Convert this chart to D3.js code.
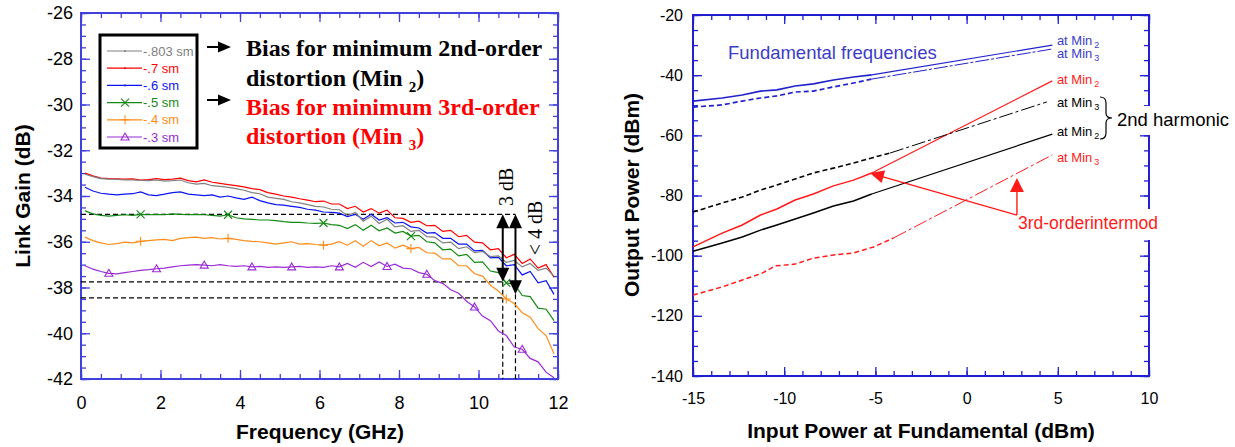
<!DOCTYPE html>
<html><head><meta charset="utf-8">
<script src="https://cdn.jsdelivr.net/npm/d3@7"></script>
<style>body{margin:0;background:#fff}svg{display:block;font-family:"Liberation Sans",Arial,sans-serif}</style>
</head><body>
<svg id="c" width="1235" height="447"></svg>
<script>
// ---------- LEFT CHART DATA ----------
const freqGHz = [0.1,0.3,0.5,0.7,0.9,1.1,1.3,1.5,1.7,1.9,2.1,2.3,2.5,2.7,2.9,3.1,3.3,3.5,3.7,3.9,
 4.1,4.3,4.5,4.7,4.9,5.1,5.3,5.5,5.7,5.9,6.1,6.3,6.5,6.7,6.9,7.1,7.3,7.5,7.7,7.9,
 8.1,8.3,8.5,8.7,8.9,9.1,9.3,9.5,9.7,9.9,10.1,10.3,10.5,10.7,10.9,11.1,11.3,11.5,11.7,11.9];
const gainM803 = [-33.05,-33.15,-33.24,-33.26,-33.27,-33.30,-33.30,-33.32,-33.33,-33.30,
 -33.35,-33.33,-33.30,-33.42,-33.48,-33.45,-33.55,-33.58,-33.62,-33.68,
 -33.75,-33.85,-33.90,-34.05,-34.10,-34.15,-34.25,-34.30,-34.38,-34.45,
 -34.48,-34.58,-34.60,-34.85,-34.72,-35.10,-34.88,-35.20,-35.02,-35.35,
 -35.30,-35.55,-35.50,-35.78,-35.80,-36.05,-36.02,-36.30,-36.22,-36.48,
 -36.42,-36.65,-36.62,-36.90,-36.82,-37.10,-36.95,-37.25,-37.15,-37.50];
const gainM7 = [-33.00,-33.12,-33.22,-33.24,-33.25,-33.26,-33.25,-33.30,-33.28,-33.24,
 -33.28,-33.26,-33.22,-33.33,-33.38,-33.30,-33.40,-33.45,-33.50,-33.55,
 -33.60,-33.68,-33.72,-33.85,-33.92,-34.00,-34.05,-34.12,-34.18,-34.25,
 -34.22,-34.35,-34.35,-34.55,-34.45,-34.70,-34.55,-34.75,-34.62,-34.95,
 -34.98,-35.15,-35.10,-35.30,-35.28,-35.55,-35.50,-35.78,-35.72,-36.02,
 -36.05,-36.35,-36.30,-36.70,-36.55,-36.95,-36.75,-37.15,-37.00,-37.55];
const gainM6 = [-33.62,-33.78,-33.88,-33.92,-33.95,-33.92,-33.90,-33.82,-33.95,-33.98,
 -33.92,-33.85,-33.82,-33.92,-33.95,-33.98,-33.95,-34.05,-34.00,-34.08,
 -34.15,-34.05,-34.20,-34.30,-34.38,-34.40,-34.45,-34.50,-34.58,-34.62,
 -34.70,-34.72,-34.75,-34.90,-34.80,-35.02,-34.80,-35.05,-34.95,-35.18,
 -35.15,-35.35,-35.40,-35.62,-35.60,-35.85,-35.85,-36.10,-36.10,-36.40,
 -36.38,-36.70,-36.68,-37.05,-37.00,-37.45,-37.30,-37.80,-37.70,-38.30];
const gainM5 = [-34.65,-34.78,-34.85,-34.88,-34.85,-34.82,-34.85,-34.80,-34.82,-34.80,
 -34.82,-34.78,-34.80,-34.82,-34.80,-34.82,-34.85,-34.88,-34.82,-34.95,
 -35.00,-35.02,-35.05,-35.05,-35.08,-35.12,-35.15,-35.15,-35.18,-35.20,
 -35.18,-35.25,-35.28,-35.42,-35.25,-35.50,-35.28,-35.52,-35.40,-35.62,
 -35.55,-35.75,-35.72,-36.00,-36.05,-36.35,-36.32,-36.62,-36.55,-36.90,
 -36.88,-37.28,-37.35,-37.80,-37.85,-38.35,-38.40,-38.90,-38.95,-39.45];
const gainM4 = [-35.80,-35.95,-36.05,-36.12,-36.08,-36.02,-36.05,-35.98,-35.95,-35.92,
 -35.90,-35.95,-35.85,-35.82,-35.80,-35.85,-35.82,-35.88,-35.85,-35.90,
 -35.95,-35.98,-36.00,-36.05,-36.10,-36.05,-36.00,-36.10,-36.08,-36.12,
 -36.15,-36.10,-36.00,-36.15,-35.95,-36.20,-35.95,-36.18,-36.05,-36.28,
 -36.15,-36.30,-36.25,-36.48,-36.50,-36.75,-36.75,-37.05,-37.05,-37.40,
 -37.50,-37.90,-38.15,-38.50,-38.70,-39.10,-39.30,-39.80,-40.10,-40.90];
const gainM3 = [-37.05,-37.20,-37.30,-37.38,-37.40,-37.35,-37.30,-37.25,-37.22,-37.18,
 -37.15,-37.10,-37.05,-37.02,-37.00,-37.02,-37.05,-37.00,-37.05,-37.08,
 -37.05,-37.10,-37.08,-37.12,-37.10,-37.12,-37.10,-37.08,-37.12,-37.10,
 -37.12,-37.05,-37.10,-36.95,-37.12,-36.90,-37.08,-36.88,-37.08,-36.98,
 -37.15,-37.18,-37.35,-37.42,-37.70,-37.82,-38.10,-38.25,-38.60,-38.85,
 -39.25,-39.45,-39.90,-40.10,-40.60,-40.70,-41.10,-41.25,-41.70,-41.95];
const legendLabels = ["-.803 sm","-.7 sm","-.6 sm","-.5 sm","-.4 sm","-.3 sm"];
const markIdxGreen = [7,18,30,41,53];
const markIdxOrange = [7,18,30,41,53];
const markIdxPurple = [3,9,15,21,26,32,38,43,49,55];
const xTicksL = [0,2,4,6,8,10,12];
const yTicksL = [-42,-40,-38,-36,-34,-32,-30,-28,-26];
const refLevels = [-34.8,-37.75,-38.45];
const cutFreqs = [10.61,10.93];

// ---------- RIGHT CHART DATA ----------
const pinMeas = [-15,-13.4,-12.3,-11.3,-10.4,-9.4,-8.4,-7.3,-6.2,-5.2,4.7];
const fundMin2 = [-48.6,-47.6,-46.6,-45.3,-44.9,-43.6,-42.9,-41.6,-40.6,-39.9,-30.0];
const fundMin3 = [-50.6,-49.9,-48.6,-47.6,-46.9,-45.6,-45.3,-43.9,-42.6,-41.3,-31.3];
const im3Min2  = [-97.1,-92.5,-89.8,-86.5,-84.5,-81.5,-79.5,-76.8,-74.9,-72.5,-41.9];
const h2Min2   = [-98.5,-95.8,-93.8,-91.5,-89.8,-87.8,-85.8,-83.5,-81.8,-79.5,-59.6];
const pinH2Min3 = [-15,-13.4,-12.3,-11.3,-10.4,-9.4,-8.4,-7.3,-6.2,-5.2,-4.2,4.4];
const h2Min3   = [-85.5,-82.5,-80.5,-78.2,-76.5,-74.5,-72.5,-70.9,-69.2,-67.5,-65.9,-48.9];
const pinIm3Min3 = [-15,-13.4,-12.3,-11.2,-10.5,-9.4,-8.4,-7.3,-6.2,-5.1,-4.0,4.7];
const im3Min3  = [-113.1,-110.4,-108.1,-105.8,-103.4,-102.8,-100.8,-99.8,-99.1,-97.1,-94.1,-66.5];
const xTicksR = [-15,-10,-5,0,5,10];
const yTicksR = [-140,-120,-100,-80,-60,-40,-20];

const svg = d3.select('#c');
const SANS = '"Liberation Sans", Arial, sans-serif';
const SERIF = '"Liberation Serif", "Times New Roman", serif';

const xL = d3.scaleLinear().domain([0,12]).range([81,558]);
const yL = d3.scaleLinear().domain([-42,-26]).range([379,13]);
const xR = d3.scaleLinear().domain([-15,10]).range([693,1149]);
const yR = d3.scaleLinear().domain([-140,-20]).range([376,15]);

function axes(x, y, color, xMajor, xMinor, yMajor, yMinor, fs, xPad, yPad) {
  const [x0,x1] = x.range(), [yb,yt] = y.range();
  const g = svg.append('g');
  const st = sel => { sel.select('.domain').remove();
    sel.selectAll('line').attr('stroke',color).attr('stroke-width',1.3);
    sel.selectAll('text').attr('fill','#000').attr('font-size',fs).attr('font-family',SANS); };
  const fmt = d => String(d);
  g.append('g').attr('transform',`translate(0,${yb})`).call(d3.axisBottom(x).tickValues(xMinor).tickSize(-5).tickFormat('')).call(st);
  g.append('g').attr('transform',`translate(0,${yb})`).call(d3.axisBottom(x).tickValues(xMajor).tickSize(-9).tickPadding(xPad).tickFormat(fmt)).call(st);
  g.append('g').attr('transform',`translate(0,${yt})`).call(d3.axisTop(x).tickValues(xMinor).tickSize(-5).tickFormat('')).call(st);
  g.append('g').attr('transform',`translate(0,${yt})`).call(d3.axisTop(x).tickValues(xMajor).tickSize(-9).tickFormat('')).call(st);
  g.append('g').attr('transform',`translate(${x0},0)`).call(d3.axisLeft(y).tickValues(yMinor).tickSize(-5).tickFormat('')).call(st);
  g.append('g').attr('transform',`translate(${x0},0)`).call(d3.axisLeft(y).tickValues(yMajor).tickSize(-9).tickPadding(yPad).tickFormat(fmt)).call(st);
  g.append('g').attr('transform',`translate(${x1},0)`).call(d3.axisRight(y).tickValues(yMinor).tickSize(-5).tickFormat('')).call(st);
  g.append('g').attr('transform',`translate(${x1},0)`).call(d3.axisRight(y).tickValues(yMajor).tickSize(-9).tickFormat('')).call(st);
  g.append('rect').attr('x',x0).attr('y',yt).attr('width',x1-x0).attr('height',yb-yt)
    .attr('fill','none').attr('stroke',color).attr('stroke-width',2);
  return g;
}

// ================= LEFT CHART =================
axes(xL, yL, '#4040dd', xTicksL, d3.range(0,12.01,0.5), yTicksL, d3.range(-42,-25.99,0.5), 18, 17, 8);

const seriesL = [
  {name:legendLabels[0], vals:gainM803, color:'#808080', mark:null, idx:[]},
  {name:legendLabels[1], vals:gainM7, color:'#ff0000', mark:null, idx:[]},
  {name:legendLabels[2], vals:gainM6, color:'#0a14f0', mark:null, idx:[]},
  {name:legendLabels[3], vals:gainM5, color:'#138a13', mark:'x', idx:markIdxGreen},
  {name:legendLabels[4], vals:gainM4, color:'#ff8c1a', mark:'+', idx:markIdxOrange},
  {name:legendLabels[5], vals:gainM3, color:'#9a2bd6', mark:'tri', idx:markIdxPurple}
];
const markPath = {x:'M-4,-4L4,4M-4,4L4,-4', '+':'M-4.5,0H4.5M0,-4.5V4.5', tri:'M0,-4L4,3H-4Z'};

// dashed reference lines (behind data)
const gRef = svg.append('g').attr('stroke','#000').attr('stroke-width',1.2).attr('stroke-dasharray','5,3').attr('fill','none');
gRef.append('line').attr('x1',xL(0)).attr('x2',xL(cutFreqs[1])).attr('y1',yL(refLevels[0])).attr('y2',yL(refLevels[0]));
gRef.append('line').attr('x1',xL(0)).attr('x2',xL(cutFreqs[0])).attr('y1',yL(refLevels[1])).attr('y2',yL(refLevels[1]));
gRef.append('line').attr('x1',xL(0)).attr('x2',xL(cutFreqs[0])).attr('y1',yL(refLevels[2])).attr('y2',yL(refLevels[2]));
gRef.append('line').attr('x1',xL(cutFreqs[0])).attr('x2',xL(cutFreqs[0])).attr('y1',yL(refLevels[1])).attr('y2',yL(-42));
gRef.append('line').attr('x1',xL(cutFreqs[1])).attr('x2',xL(cutFreqs[1])).attr('y1',yL(-38.3)).attr('y2',yL(-42));

const lineL = d3.line().x((d,i)=>xL(freqGHz[i])).y(d=>yL(d));
[...seriesL].reverse().forEach(s => {
  svg.append('path').attr('d', lineL(s.vals)).attr('fill','none').attr('stroke',s.color).attr('stroke-width',1.2);
  if (s.mark) {
    svg.append('g').selectAll('path').data(s.idx).join('path')
      .attr('transform',i=>`translate(${xL(freqGHz[i])},${yL(s.vals[i])})`)
      .attr('d',markPath[s.mark]).attr('fill','none').attr('stroke',s.color).attr('stroke-width',1.1);
  }
});

// double-headed arrows
function vArrow(x, yTop, yBot) {
  const g = svg.append('g');
  g.append('line').attr('x1',x).attr('x2',x).attr('y1',yTop+12).attr('y2',yBot-12).attr('stroke','#000').attr('stroke-width',2);
  g.append('path').attr('d',`M${x},${yTop}L${x-6.5},${yTop+14}L${x+6.5},${yTop+14}Z`).attr('fill','#000');
  g.append('path').attr('d',`M${x},${yBot}L${x-6.5},${yBot-14}L${x+6.5},${yBot-14}Z`).attr('fill','#000');
}
vArrow(xL(cutFreqs[0]), yL(refLevels[0]), yL(refLevels[1]));
vArrow(xL(cutFreqs[1]), yL(refLevels[0]), yL(-38.3));
svg.append('text').attr('transform',`translate(${xL(cutFreqs[0])+10},${yL(-33.6)}) rotate(-90)`)
  .attr('text-anchor','middle').style('font-family',SERIF).attr('font-size',20).text('3 dB');
svg.append('text').attr('transform',`translate(${xL(cutFreqs[1])+27},${yL(-35.4)}) rotate(-90)`)
  .attr('text-anchor','middle').style('font-family',SERIF).attr('font-size',20).text('< 4 dB');

// legend
const lg = svg.append('g');
lg.append('rect').attr('x',100).attr('y',35).attr('width',97).attr('height',113).attr('fill','#fff').attr('stroke','#000').attr('stroke-width',3);
seriesL.forEach((s,k) => {
  const yy = 51 + k*17.2;
  lg.append('line').attr('x1',107).attr('x2',142).attr('y1',yy).attr('y2',yy).attr('stroke',s.color).attr('stroke-width',1.2);
  if (s.mark) lg.append('path').attr('transform',`translate(125,${yy})`).attr('d',markPath[s.mark]).attr('fill','none').attr('stroke',s.color).attr('stroke-width',1.1);
  else lg.append('circle').attr('cx',125).attr('cy',yy).attr('r',1).attr('fill',s.color);
  lg.append('text').attr('x',143).attr('y',yy+4.5).attr('font-size',13).attr('fill',s.color).text(s.name);
});

// bias annotations
function hArrow(x, y) {
  svg.append('line').attr('x1',x).attr('x2',x+14).attr('y1',y).attr('y2',y).attr('stroke','#000').attr('stroke-width',2);
  svg.append('path').attr('d',`M${x+24},${y}L${x+11},${y-5.5}L${x+11},${y+5.5}Z`).attr('fill','#000');
}
hArrow(207,47); hArrow(207,100);
function biasText(y, color, txt) {
  svg.append('text').attr('x',246).attr('y',y).style('font-family',SERIF).attr('font-weight','bold')
    .attr('font-size',24).attr('fill',color).text(txt);
}
function minText(y, color, sub) {
  const t = svg.append('text').attr('x',246).attr('y',y).style('font-family',SERIF).attr('font-weight','bold')
    .attr('font-size',24).attr('fill',color);
  t.append('tspan').text('distortion (Min ');
  t.append('tspan').attr('font-size',15).attr('dy',6).text(sub);
  t.append('tspan').attr('dy',-6).text(')');
}
biasText(56,'#000','Bias for minimum 2nd-order');
minText(86,'#000','2');
biasText(115,'#ff0000','Bias for minimum 3rd-order');
minText(144,'#ff0000','3');

// axis titles
svg.append('text').attr('transform','translate(30,196) rotate(-90)').attr('text-anchor','middle')
  .attr('font-weight','bold').attr('font-size',21).text('Link Gain (dB)');
svg.append('text').attr('x',320).attr('y',439).attr('text-anchor','middle')
  .attr('font-weight','bold').attr('font-size',21).text('Frequency (GHz)');

// ================= RIGHT CHART =================
axes(xR, yR, '#1f1fd0', xTicksR, d3.range(-15,10.01,1), yTicksR, d3.range(-140,-19.99,5), 16, 17, 10);

function seriesR(xs, ys, kink, color, wL, wR, dashL, dashR) {
  const ln = d3.line().x(i=>xR(xs[i])).y(i=>yR(ys[i]));
  const idx = d3.range(xs.length);
  svg.append('path').attr('d',ln(idx.slice(0,kink+1))).attr('fill','none').attr('stroke',color)
    .attr('stroke-width',wL).attr('stroke-dasharray',dashL);
  svg.append('path').attr('d',ln(idx.slice(kink))).attr('fill','none').attr('stroke',color)
    .attr('stroke-width',wR).attr('stroke-dasharray',dashR);
}
seriesR(pinMeas, fundMin2, 9, '#2222cc', 1.7, 1.2, null, null);
seriesR(pinMeas, fundMin3, 9, '#2222cc', 1.7, 1.0, '5,3', '14,2,3,2');
seriesR(pinMeas, im3Min2, 9, '#ff1a1a', 1.5, 1.2, null, null);
seriesR(pinMeas, h2Min2, 9, '#000', 1.5, 1.2, null, null);
seriesR(pinH2Min3, h2Min3, 10, '#000', 1.6, 1.0, '5,3', '14,3,3,3');
seriesR(pinIm3Min3, im3Min3, 10, '#ff1a1a', 1.5, 1.0, '5,3', '14,3,3,3');

// labels at line ends
const endLabels = [
  {y:-30.0, sub:'2', color:'#3c3cc8'},
  {y:-34.3, sub:'3', color:'#3c3cc8'},
  {y:-42.9, sub:'2', color:'#ff1a1a'},
  {y:-50.6, sub:'3', color:'#000'},
  {y:-60.2, sub:'2', color:'#000'},
  {y:-68.9, sub:'3', color:'#ff1a1a'}
];
endLabels.forEach(l => {
  const t = svg.append('text').attr('x',xR(4.95)).attr('y',yR(l.y)).attr('font-size',13).attr('fill',l.color);
  t.append('tspan').text('at Min');
  t.append('tspan').attr('dx',2).attr('dy',3).attr('font-size',9).text(l.sub);
});
// white gaps in frame behind labels
svg.append('rect').attr('x',1140).attr('y',106).attr('width',20).attr('height',29).attr('fill','#fff');
svg.append('rect').attr('x',1140).attr('y',209).attr('width',30).attr('height',31).attr('fill','#fff');
// brace
svg.append('path').attr('d','M1100,97 Q1106,97 1106,103 L1106,113 Q1106,118 1112,118 Q1106,118 1106,123 L1106,133 Q1106,139 1100,139')
  .attr('fill','none').attr('stroke','#000').attr('stroke-width',1.2);
svg.append('text').attr('x',1117).attr('y',125.5).attr('font-size',18.5).attr('fill','#000').text('2nd harmonic');
svg.append('text').attr('x',728).attr('y',59).attr('font-size',18.5).attr('fill','#3c3cc8').text('Fundamental frequencies');

// intermod arrows
const ox = xR(2.76), oy = yR(-86.5);
const tip1 = [xR(-5.3), yR(-72.5)], tip2 = [ox, yR(-74.2)];
svg.append('line').attr('x1',ox).attr('y1',oy).attr('x2',tip1[0]+8).attr('y2',tip1[1]+2.5).attr('stroke','#ff1a1a').attr('stroke-width',1.4);
svg.append('line').attr('x1',ox).attr('y1',oy).attr('x2',ox).attr('y2',tip2[1]+10).attr('stroke','#ff1a1a').attr('stroke-width',1.4);
{
  const a = Math.atan2(oy-tip1[1], ox-tip1[0]);
  const L = 14, W = 6.5;
  const bx = tip1[0]+L*Math.cos(a), by = tip1[1]+L*Math.sin(a);
  const px = -Math.sin(a)*W, py = Math.cos(a)*W;
  svg.append('path').attr('d',`M${tip1[0]},${tip1[1]}L${bx+px},${by+py}L${bx-px},${by-py}Z`).attr('fill','#ff1a1a');
  svg.append('path').attr('d',`M${tip2[0]},${tip2[1]}L${tip2[0]-7},${tip2[1]+14}L${tip2[0]+7},${tip2[1]+14}Z`).attr('fill','#ff1a1a');
}
svg.append('text').attr('x',1018).attr('y',229).attr('font-size',17.5).attr('fill','#ff1a1a').text('3rd-orderintermod');

svg.append('text').attr('transform','translate(639,195) rotate(-90)').attr('text-anchor','middle')
  .attr('font-weight','bold').attr('font-size',21).text('Output Power (dBm)');
svg.append('text').attr('x',921).attr('y',438).attr('text-anchor','middle')
  .attr('font-weight','bold').attr('font-size',21).text('Input Power at Fundamental (dBm)');
</script>
</body></html>
